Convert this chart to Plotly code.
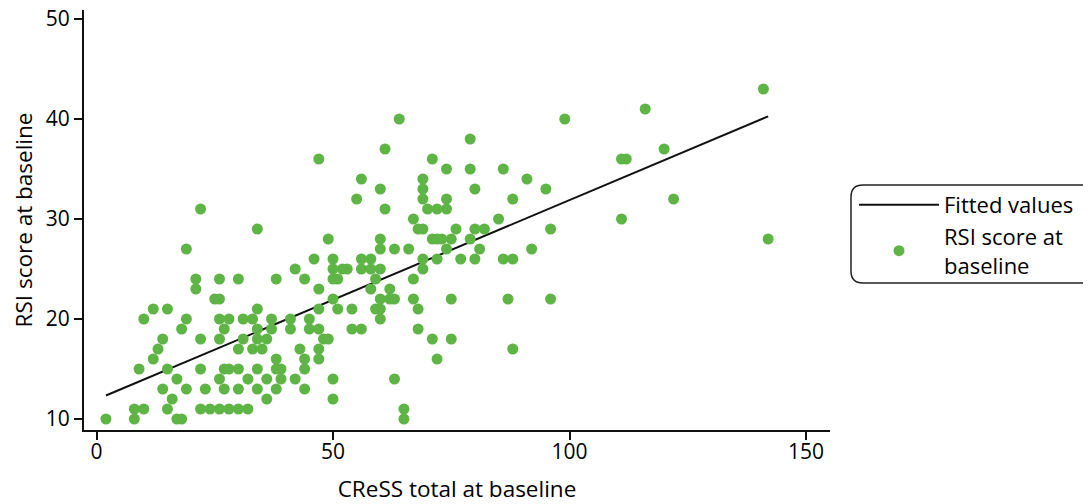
import numpy as np
import plotly.graph_objects as go

# CReSS total at baseline (x) grouped by RSI score at baseline (y)
rows = {
    10: [2, 8, 17, 18, 65],
    11: [8, 10, 15, 22, 24, 26, 28, 30, 32, 65],
    12: [16, 36, 50],
    13: [14, 19, 23, 27, 30, 34, 38, 44],
    14: [17, 26, 32, 36, 39, 42, 50, 63],
    15: [9, 15, 22, 27, 28, 30, 34, 38, 39, 44],
    16: [12, 38, 44, 47, 72],
    17: [13, 30, 33, 35, 43, 47, 88],
    18: [14, 22, 26, 31, 34, 36, 48, 49, 71, 75],
    19: [18, 27, 34, 37, 41, 45, 47, 54, 56, 68],
    20: [10, 19, 26, 28, 31, 33, 37, 41, 45, 60],
    21: [12, 15, 34, 47, 51, 54, 59, 60, 68],
    22: [25, 26, 50, 60, 62, 63, 67, 75, 87, 96],
    23: [21, 47, 58, 62],
    24: [21, 26, 30, 38, 44, 50, 51, 59, 67],
    25: [42, 50, 52, 53, 56, 58, 60, 69],
    26: [46, 50, 56, 58, 69, 72, 77, 80, 86, 88],
    27: [19, 60, 63, 66, 74, 81, 92],
    28: [49, 60, 71, 72, 73, 75, 79, 142],
    29: [34, 68, 69, 76, 80, 82, 96],
    30: [67, 85, 111],
    31: [22, 61, 70, 72, 74],
    32: [55, 69, 74, 88, 122],
    33: [60, 69, 80, 95],
    34: [56, 69, 91],
    35: [74, 79, 86],
    36: [47, 71, 111, 112],
    37: [61, 120],
    38: [79],
    40: [64, 99],
    41: [116],
    43: [141],
}

cress = []
rsi = []
for yv, xs in rows.items():
    for xv in xs:
        cress.append(xv)
        rsi.append(yv)
cress = np.array(cress, dtype=float)
rsi = np.array(rsi, dtype=float)

slope, intercept = np.polyfit(cress, rsi, 1)
fit_x = np.array([cress.min(), cress.max()])
fit_y = intercept + slope * fit_x

x_ticks = [0, 50, 100, 150]
y_ticks = [10, 20, 30, 40, 50]

FONT = "Open Sans"
GREEN = "#5fb446"
INK = "#000000"

# the page body adds an 8px margin; work in screen pixels and shift
OFF = 8
SW, SH = 1091, 504                # screen size
L, R, T, B = 84, 830, 10, 430     # plot area in screen pixels
W, H = SW - OFF, SH - OFF

def px_to_paper(X, Y):
    return (X - L) / (R - L), (B - Y) / (B - T)

fig = go.Figure()
fig.add_trace(go.Scatter(
    x=fit_x, y=fit_y, mode="lines", name="Fitted values",
    line=dict(color="#111111", width=2),
))
fig.add_trace(go.Scatter(
    x=cress, y=rsi, mode="markers", name="RSI score at<br>baseline",
    marker=dict(color=GREEN, size=11, line=dict(width=0)),
))

# rounded legend frame (screen pixel geometry converted to paper coords)
bx0, bx1, by0, by1, rad = 851, 1100, 185, 283, 12
def P(X, Y):
    px, py = px_to_paper(X, Y)
    return f"{px:.5f},{py:.5f}"
path = (f"M {P(bx0+rad, by0)} L {P(bx1-rad, by0)} Q {P(bx1, by0)} {P(bx1, by0+rad)} "
        f"L {P(bx1, by1-rad)} Q {P(bx1, by1)} {P(bx1-rad, by1)} "
        f"L {P(bx0+rad, by1)} Q {P(bx0, by1)} {P(bx0, by1-rad)} "
        f"L {P(bx0, by0+rad)} Q {P(bx0, by0)} {P(bx0+rad, by0)} Z")
fig.add_shape(type="path", path=path, xref="paper", yref="paper",
              line=dict(color="#222222", width=1.5), fillcolor="rgba(0,0,0,0)")

fig.update_layout(
    width=W, height=H,
    margin=dict(l=L - OFF, r=SW - R, t=T - OFF, b=SH - B, pad=0, autoexpand=False),
    paper_bgcolor="white", plot_bgcolor="white",
    font=dict(family=FONT, size=21, color=INK),
    showlegend=True,
    legend=dict(
        x=px_to_paper(854, 0)[0], xanchor="left",
        y=px_to_paper(0, 184)[1], yanchor="top",
        bgcolor="rgba(0,0,0,0)", borderwidth=0,
        font=dict(family=FONT, size=22, color=INK),
        itemwidth=80, tracegroupgap=0,
    ),
)
fig.update_xaxes(
    automargin=False,
    range=[(L - 96.5) / 4.73, (R - 96.5) / 4.73],
    tickvals=x_ticks, ticktext=[str(v) for v in x_ticks],
    showline=True, linecolor="#111111", linewidth=2,
    ticks="outside", ticklen=8, tickwidth=2, tickcolor="#111111",
    ticklabelstandoff=-6, ticklabeloverflow="allow",
    showgrid=False, zeroline=False,
    title=dict(text="CReSS total at baseline", standoff=17,
               font=dict(family=FONT, size=22.5, color=INK)),
    tickfont=dict(family=FONT, size=21, color=INK),
)
fig.update_yaxes(
    automargin=False,
    range=[10 - (B - 419) / 10, 10 + (419 - T) / 10],
    tickvals=y_ticks, ticktext=[str(v) for v in y_ticks],
    showline=True, linecolor="#111111", linewidth=2,
    ticks="outside", ticklen=8, tickwidth=2, tickcolor="#111111",
    ticklabelstandoff=0, ticklabeloverflow="allow",
    showgrid=False, zeroline=False,
    title=dict(text="RSI score at baseline", standoff=14,
               font=dict(family=FONT, size=22.5, color=INK)),
    tickfont=dict(family=FONT, size=21, color=INK),
)

fig.write_html("out.html")
